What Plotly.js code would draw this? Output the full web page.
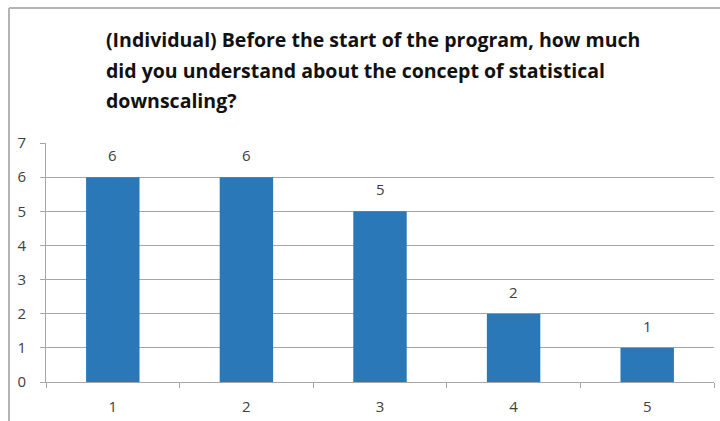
<!DOCTYPE html>
<html>
<head>
<meta charset="utf-8">
<script src="https://cdn.plot.ly/plotly-3.0.1.min.js"></script>
<style>
  html, body { margin: 0; padding: 0; background: #fff; }
  #chart { width: 720px; height: 421px; }
</style>
</head>
<body>
<div id="chart"></div>
<script>
const categories = ['1', '2', '3', '4', '5'];
const counts = [6, 6, 5, 2, 1];
const yTicks = [0, 1, 2, 3, 4, 5, 6, 7];
const titleLines = [
  '(Individual) Before the start of the program, how much',
  'did you understand about the concept of statistical',
  'downscaling?'
];

const fontFam = '"Open Sans", "Noto Sans", sans-serif';
const labelColor = '#404040';
const gridColor = '#a6a6a6';

const trace = {
  type: 'bar',
  x: categories,
  y: counts,
  marker: { color: '#2b78b9', line: { width: 0 } },
  hoverinfo: 'skip'
};

const annotations = categories.map((c, i) => ({
  x: i, y: counts[i], xref: 'x', yref: 'y',
  text: String(counts[i]), showarrow: false,
  yanchor: 'bottom', yshift: 10,
  font: { family: fontFam, size: 15, color: labelColor }
}));

const titleY = [1.431, 1.302, 1.177];
titleLines.forEach((t, i) => {
  annotations.push({
    x: 0.087, y: titleY[i], xref: 'paper', yref: 'paper',
    xanchor: 'left', yanchor: 'middle', showarrow: false,
    text: '<b>' + t + '</b>',
    font: { family: fontFam, size: 19.5, color: '#111' }
  });
});

const layout = {
  width: 720, height: 421,
  margin: { l: 46, r: 6, t: 143, b: 39 },
  paper_bgcolor: '#fff', plot_bgcolor: '#fff',
  showlegend: false,
  bargap: 0.6,
  xaxis: {
    type: 'category', range: [-0.5, categories.length - 0.5],
    showline: true, linecolor: gridColor, linewidth: 1,
    ticks: 'outside', tickson: 'boundaries', ticklen: 5, tickcolor: gridColor,
    showgrid: false, zeroline: false,
    tickfont: { family: fontFam, size: 15, color: labelColor },
    ticklabelstandoff: 11
  },
  yaxis: {
    range: [0, 7], tickvals: yTicks, ticktext: yTicks.map(String),
    showline: true, linecolor: gridColor, linewidth: 1,
    ticks: 'outside', ticklen: 5, tickcolor: gridColor,
    showgrid: true, gridcolor: gridColor, gridwidth: 1,
    zeroline: false,
    tickfont: { family: fontFam, size: 15, color: labelColor },
    ticklabelstandoff: 11
  },
  annotations: annotations,
  shapes: [
    { type: 'line', xref: 'paper', yref: 'paper',
      x0: -0.0554, x1: -0.0554, y0: -0.2, y1: 1.565,
      line: { color: '#b4b4b4', width: 2 } },
    { type: 'line', xref: 'paper', yref: 'paper',
      x0: -0.0554, x1: 1.02, y0: 1.565, y1: 1.565,
      line: { color: '#b4b4b4', width: 2 } }
  ]
};

Plotly.newPlot('chart', [trace], layout, { displayModeBar: false, staticPlot: true });
</script>
</body>
</html>
